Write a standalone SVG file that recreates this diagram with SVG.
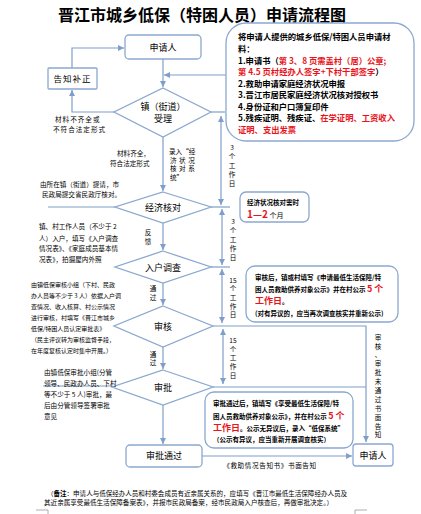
<svg xmlns="http://www.w3.org/2000/svg" width="421" height="514" viewBox="0 0 421 514">
<defs>
<marker id="ah" viewBox="0 0 10 10" refX="10" refY="5" markerWidth="6" markerHeight="6" markerUnits="userSpaceOnUse" orient="auto-start-reverse">
<path d="M0,0 L10,5 L0,10 z" fill="#7f9fca"/>
</marker>
<style>
text{font-family:"Noto Sans CJK SC","Liberation Sans",sans-serif;fill:#000}
.node{fill:#fff;stroke:#8aa8d0;stroke-width:1.3}
.con{fill:none;stroke:#7f9fca;stroke-width:1.2}
.arr{marker-end:url(#ah)}
.dbl{marker-start:url(#ah);marker-end:url(#ah)}
.n{font-size:9px}
.s{font-size:6.6px}
.m{font-size:8.3px;font-weight:bold}
.b{font-size:6.5px;font-weight:bold}
.r{fill:#e8141b}
.mid{text-anchor:middle}
</style>
</defs>
<rect width="421" height="514" fill="#fff"/>
<text x="202" y="21" class="mid" font-size="16" font-weight="bold">晋江市城乡低保（特困人员）申请流程图</text>

<g id="connectors">
<path class="con arr" d="M163,59 V87"/>
<path class="con arr" d="M226,75 H164"/>
<path class="con arr" d="M114,112 H72 V90"/>
<path class="con arr" d="M72,68 V48 H124"/>
<path class="con arr" d="M163,137 V191"/>
<path class="con" d="M211,112 H225"/>
<path class="con dbl" d="M221,116 V205"/>
<path class="con" d="M211,207 H230"/>
<path class="con" d="M48,207 H115"/>
<path class="con arr" d="M163,223 V250"/>
<path class="con dbl" d="M222,209 V265"/>
<path class="con" d="M211,267 H230"/>
<path class="con arr" d="M163,283 V305"/>
<path class="con dbl" d="M222,269 V323"/>
<path class="con arr" d="M163,347 V369"/>
<path class="con arr" d="M213,326 H366 V442"/>
<path class="con" d="M213,387 H366"/>
<path class="con dbl" d="M223,329 V384"/>
<path class="con" d="M43,386 H112"/>
<path class="con arr" d="M163,405 V444"/>
<path class="con arr" d="M202,456 H352"/>
</g>

<g id="applicant">
<rect class="node" x="125" y="35" width="76" height="24" rx="4"/>
<text x="163" y="50.5" class="n mid">申请人</text>
</g>
<g id="notify">
<rect class="node" x="48" y="68" width="49" height="21" rx="1"/>
<text x="72.5" y="81.5" class="mid" font-size="8.5" letter-spacing="1">告知补正</text>
</g>
<g id="accept">
<polygon class="node" points="163,88 211,112 163,137 114,112"/>
<text x="163" y="110" class="n mid">镇（街道）</text>
<text x="163" y="122" class="n mid">受理</text>
</g>
<g id="check">
<polygon class="node" points="163,192 211,207 163,223 115,207"/>
<text x="163" y="210.5" class="n mid">经济核对</text>
</g>
<g id="survey">
<polygon class="node" points="163,251 211,267 163,283 115,267"/>
<text x="163" y="270.5" class="n mid">入户调查</text>
</g>
<g id="review">
<polygon class="node" points="163,306 213,326 163,347 114,326"/>
<text x="163" y="329.5" class="n mid">审核</text>
</g>
<g id="approve">
<polygon class="node" points="163,370 213,387 163,405 112,387"/>
<text x="163" y="390.5" class="n mid">审批</text>
</g>
<g id="passed">
<rect class="node" x="126" y="445" width="76" height="22" rx="4"/>
<text x="164" y="459" class="n mid">审批通过</text>
</g>
<g id="applicant2">
<rect class="node" x="353" y="444" width="40" height="22" rx="3"/>
<text x="373" y="458.5" class="n mid">申请人</text>
</g>

<g id="materials">
<rect class="node" x="226" y="23" width="188" height="118" rx="20"/>
<text x="238" y="40" class="m">将申请人提供的城乡低保/特困人员申请材</text>
<text x="238" y="51.5" class="m">料：</text>
<text x="238" y="63.5" class="m">1.申请书（<tspan class="r">第 3、8 页需盖村（居）公章;</tspan></text>
<text x="238" y="75" class="m"><tspan class="r">第 4.5 页村经办人签字+下村干部签字</tspan>）</text>
<text x="238" y="86.5" class="m">2.救助申请家庭经济状况申报</text>
<text x="238" y="98" class="m">3.晋江市居民家庭经济状况核对授权书</text>
<text x="238" y="109.5" class="m">4.身份证和户口簿复印件</text>
<text x="238" y="121" class="m">5.残疾证明、残疾证、<tspan class="r">在学证明、工资收入</tspan></text>
<text x="238" y="132.5" class="m r">证明、支出发票</text>
</g>

<g id="duration">
<rect class="node" x="240" y="192" width="69" height="30" rx="6"/>
<text x="247" y="205" class="b">经济状况核对需时</text>
<text x="247" y="218" font-size="7"><tspan class="r" font-size="10" font-weight="bold">1—2</tspan> 个月</text>
</g>

<g id="publicity1">
<rect class="node" x="246" y="266" width="152" height="56" rx="9"/>
<text x="255" y="280" class="b">审核后，镇或村填写《申请最低生活保障/特</text>
<text x="255" y="292" class="b">困人员救助供养对象公示》并在村公示 <tspan class="r" font-size="9">5 个</tspan></text>
<text x="255" y="304" class="b"><tspan class="r" font-size="9">工作日</tspan>。</text>
<text x="255" y="315.5" class="b">(对有异议的，应当再次调查核实并重新公示)</text>
</g>

<g id="publicity2">
<rect class="node" x="205" y="392" width="148" height="56" rx="9"/>
<text x="213" y="406" class="b">审批通过后，镇填写《享受最低生活保障/特</text>
<text x="213" y="418.5" class="b">困人员救助供养对象公示》，并在村公示 <tspan class="r" font-size="9">5 个</tspan></text>
<text x="213" y="430.5" class="b"><tspan class="r" font-size="9">工作日</tspan>。公示无异议后，录入“低保系统”</text>
<text x="213" y="441.5" class="b">（公示有异议，应当重新开展调查核实）</text>
</g>

<g id="labels">
<text x="55" y="122" class="s" letter-spacing="1">材料不齐全或</text>
<text x="53" y="132" class="s" letter-spacing="1">不符合法定形式</text>
<text x="117" y="156" class="s">材料齐全，</text>
<text x="110" y="166" class="s">符合法定形式</text>
<text x="169" y="154" class="s">录入“经</text>
<text x="170" y="162.5" class="s" letter-spacing="2.5">济状况</text>
<text x="170" y="171" class="s" letter-spacing="2.5">核对系</text>
<text x="170" y="179.5" class="s">统”</text>
<text x="40" y="186.5" class="s">由所在镇（街道）提请，市</text>
<text x="42" y="197" class="s">民政局提交省民政厅核对。</text>
<text x="39" y="229" class="s" font-size="7">镇、村工作人员（不少于 2</text>
<text x="39" y="240.5" class="s" font-size="7">人）入户，填写《入户调查</text>
<text x="39" y="251" class="s" font-size="7">情况表》、《家庭成员基本情</text>
<text x="39" y="261.5" class="s" font-size="7">况表》，拍摄屋内外照</text>
<text x="148" y="234.5" class="s mid">反</text>
<text x="148" y="243.5" class="s mid">馈</text>
<text x="153" y="290.5" class="s mid">通</text>
<text x="153" y="299.5" class="s mid">过</text>
<text x="153" y="356.5" class="s mid">通</text>
<text x="153" y="365" class="s mid">过</text>
<text x="31" y="286.5" font-size="6">由镇低保审核小组（下村、民政</text>
<text x="31" y="297.5" font-size="6">办人员等不少于 3 人）依据入户调</text>
<text x="31" y="308.5" font-size="6">查情况、收入核算、村公示情况</text>
<text x="31" y="319.5" font-size="6">进行审核，村填写《晋江市城乡</text>
<text x="31" y="330.5" font-size="6">低保/特困人员认定审批表》</text>
<text x="31" y="342" font-size="6">（民主评议转为审核监督手段，</text>
<text x="31" y="353" font-size="6">在年度复核认定时集中开展。）</text>
<text x="44" y="374.5" class="s">由镇低保审批小组(分管</text>
<text x="44" y="385.5" class="s">领导、民政办人员、下村</text>
<text x="44" y="396.5" class="s">等不少于 5 人)审批，最</text>
<text x="44" y="407.5" class="s">后由分管领导签署审批</text>
<text x="44" y="418.5" class="s">意见</text>
<g class="s" text-anchor="middle">
<text x="232" y="149.5">3</text><text x="232" y="158.5">个</text><text x="232" y="167.5">工</text><text x="232" y="176.5">作</text><text x="232" y="185.5">日</text>
<text x="233" y="223.5">3</text><text x="233" y="232.5">个</text><text x="233" y="241.5">工</text><text x="233" y="250.5">作</text><text x="233" y="259.5">日</text>
<text x="233" y="282.5">15</text><text x="233" y="291">个</text><text x="233" y="299.5">工</text><text x="233" y="308.5">作</text><text x="233" y="317">日</text>
<text x="233" y="342.5">15</text><text x="233" y="351.5">个</text><text x="233" y="360">工</text><text x="233" y="368.5">作</text><text x="233" y="377.5">日</text>
<text x="378" y="339.5">审</text><text x="378" y="348.5">核</text><text x="378" y="357">、</text><text x="378" y="366">审</text><text x="378" y="375">批</text><text x="378" y="384">未</text><text x="378" y="392.5">通</text><text x="378" y="401.5">过</text><text x="378" y="410.5">书</text><text x="378" y="419.5">面</text><text x="378" y="428.5">告</text><text x="378" y="437">知</text>
</g>
<text x="270" y="468" class="s mid" letter-spacing="0.6">《救助情况告知书》书面告知</text>
</g>

<g id="note">
<text x="47" y="495.5" font-size="6.5" textLength="300" lengthAdjust="spacingAndGlyphs">（<tspan font-weight="bold">备注</tspan>：申请人与低保经办人员和村委会成员有近亲属关系的，应填写《晋江市最低生活保障经办人员及</text>
<text x="44" y="504.5" font-size="6.5" textLength="289" lengthAdjust="spacingAndGlyphs">其近亲属享受最低生活保障备案表》，并报市民政局备案，经市民政局入户核查后，再做审批决定。）</text>
</g>
<path d="M36,510 H48 V514 M367,510 H355 V514" fill="none" stroke="#999" stroke-width="0.8"/>
</svg>
